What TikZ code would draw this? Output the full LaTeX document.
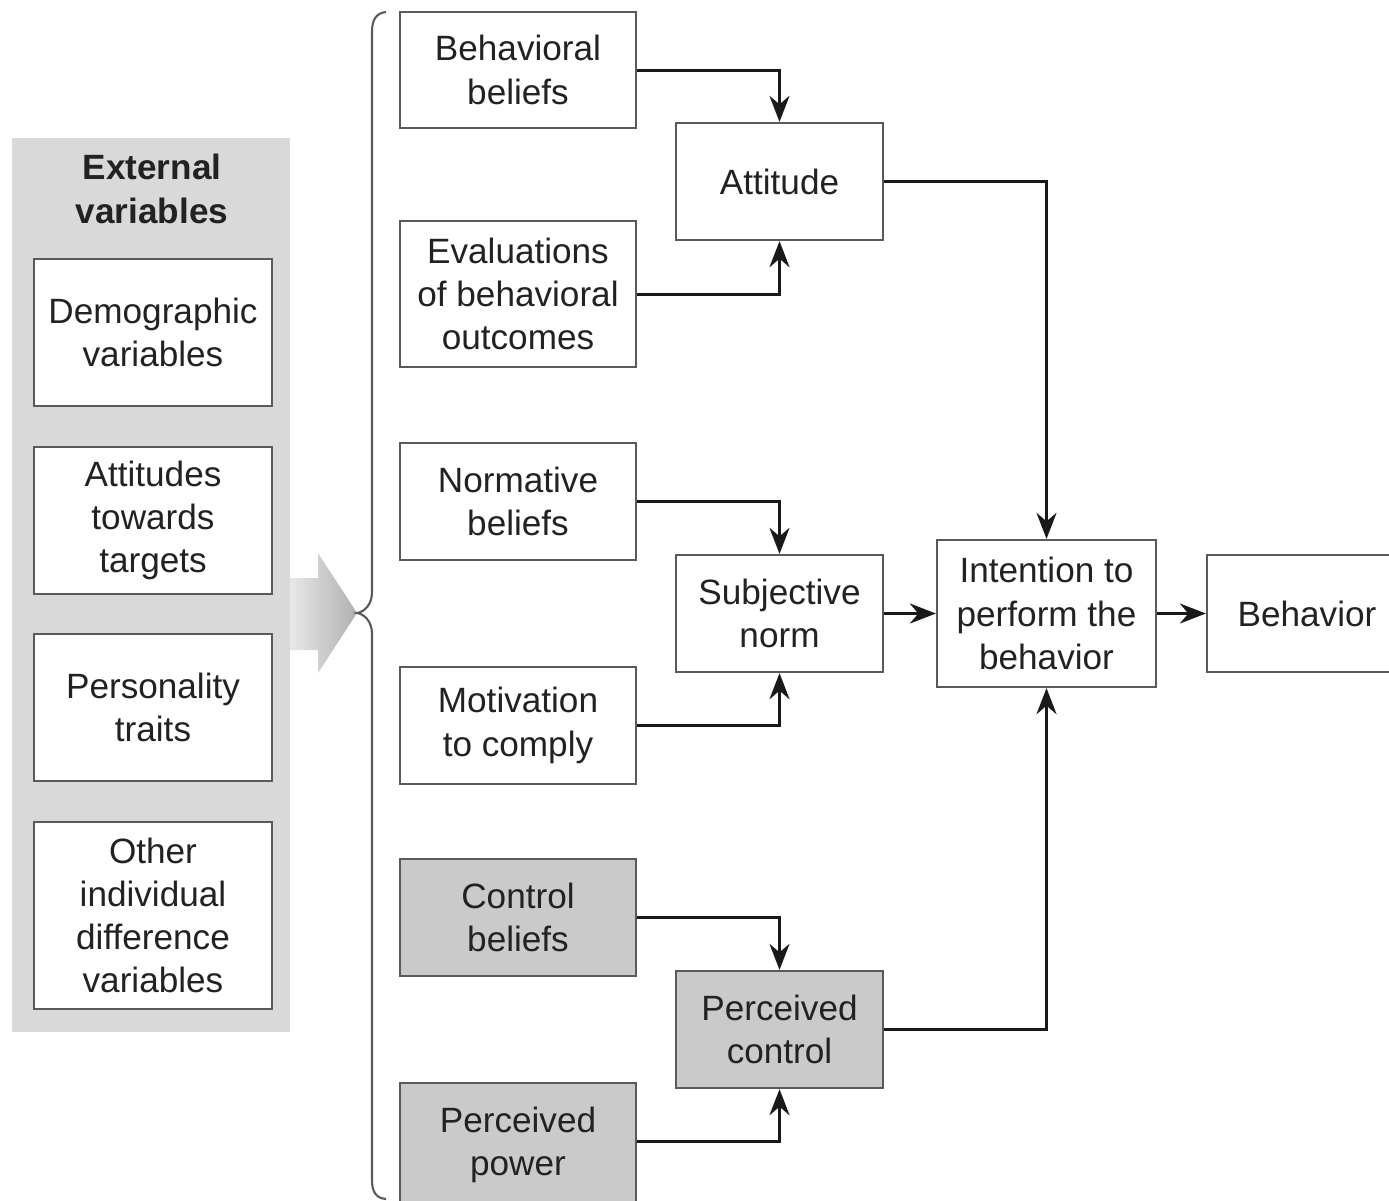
\documentclass[tikz,border=0pt]{standalone}
\usepackage{fontspec}
\setmainfont{Liberation Sans}
\usepackage{xcolor}
\usepackage{tikz}
\usetikzlibrary{arrows.meta}

\definecolor{panelgray}{HTML}{D9D9D9}
\definecolor{boxgray}{HTML}{CACACA}
\definecolor{edgegray}{HTML}{5A5A5A}
\definecolor{textdark}{HTML}{222222}

\begin{document}
\begin{tikzpicture}[x=1cm, y=-1cm,
  box/.style={draw=edgegray, line width=0.65pt, fill=white, align=center,
    text=textdark, font=\fontsize{10}{12.3}\selectfont, inner sep=0pt},
  wide/.style={box, minimum width=2.36cm},
  narrow/.style={box, minimum width=2.07cm},
  shaded/.style={fill=boxgray},
  conn/.style={draw=black!90, line width=0.85pt, -{Stealth[length=2.6mm, width=2mm]}}]
\def\cBrace{edgegray}
\useasboundingbox (0,0) rectangle (13.89,12.00);
\clip (0,0) rectangle (13.89,12.00);

% external variables panel
\fill[panelgray] (0.12,1.38) rectangle (2.90,10.32);
\node[text=textdark, align=center, font=\bfseries\fontsize{10}{12.3}\selectfont] (ext) at (1.52,1.89) {External\\variables};
\node[box, minimum width=2.38cm, minimum height=1.47cm] (demo) at (1.53,3.325) {Demographic\\variables};
\node[box, minimum width=2.38cm, minimum height=1.47cm] (targ) at (1.53,5.205) {Attitudes\\towards\\targets};
\node[box, minimum width=2.38cm, minimum height=1.47cm] (pers) at (1.53,7.075) {Personality\\traits};
\node[box, minimum width=2.38cm, minimum height=1.87cm] (other) at (1.53,9.155) {Other\\individual\\difference\\variables};

% big arrow
\shade[left color=gray!18, right color=gray!62] (2.90,5.78) -- (3.18,5.78) -- (3.18,5.53) -- (3.57,6.13)
  -- (3.18,6.73) -- (3.18,6.50) -- (2.90,6.50) -- cycle;

% brace
\draw[\cBrace, line width=0.6pt] (3.86,0.12) .. controls (3.76,0.13) and (3.72,0.20) .. (3.72,0.32)
  -- (3.72,5.92) .. controls (3.72,6.05) and (3.64,6.12) .. (3.57,6.13)
  .. controls (3.64,6.14) and (3.72,6.21) .. (3.72,6.34)
  -- (3.72,11.80) .. controls (3.72,11.92) and (3.76,11.98) .. (3.86,11.99);

% beliefs
\node[wide, minimum height=1.16cm] (bb) at (5.18,0.70) {Behavioral\\beliefs};
\node[wide, minimum height=1.46cm] (ev) at (5.18,2.94) {Evaluations\\of behavioral\\outcomes};
\node[wide, minimum height=1.17cm] (nb) at (5.18,5.015) {Normative\\beliefs};
\node[wide, minimum height=1.17cm] (mc) at (5.18,7.255) {Motivation\\to comply};
\node[wide, shaded, minimum height=1.17cm] (cb) at (5.18,9.175) {Control\\beliefs};
\node[wide, shaded, minimum height=1.24cm] (pp) at (5.18,11.45) {Perceived\\power};

% components
\node[narrow, minimum height=1.17cm] (att) at (7.795,1.815) {Attitude};
\node[narrow, minimum height=1.17cm] (sn) at (7.795,6.135) {Subjective\\norm};
\node[narrow, shaded, minimum height=1.17cm] (pc) at (7.795,10.295) {Perceived\\control};

\node[box, minimum width=2.19cm, minimum height=1.47cm] (int) at (10.465,6.135) {Intention to\\perform the\\behavior};
\node[box, minimum width=2.00cm, minimum height=1.17cm] (beh) at (13.07,6.135) {Behavior};

% connectors
\draw[conn] (bb.east) -| (att.north);
\draw[conn] (ev.east) -| (att.south);
\draw[conn] (nb.east) -| (sn.north);
\draw[conn] (mc.east) -| (sn.south);
\draw[conn] (cb.east) -| (pc.north);
\draw[conn] (pp.east |- 0,11.41) -| (pc.south);
\draw[conn] (att.east) -| (int.north);
\draw[conn] (sn.east) -- (int.west);
\draw[conn] (pc.east) -| (int.south);
\draw[conn] (int.east) -- (beh.west);
\end{tikzpicture}
\end{document}
